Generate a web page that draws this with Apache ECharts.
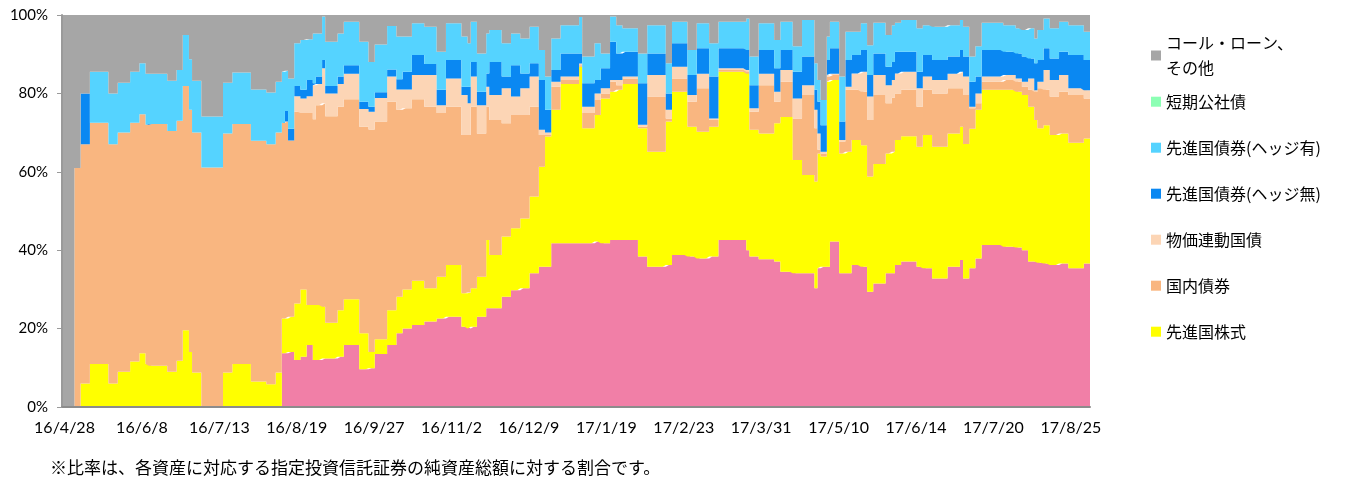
<!DOCTYPE html>
<html>
<head>
<meta charset="utf-8">
<script src="https://cdn.jsdelivr.net/npm/echarts@6/dist/echarts.min.js"></script>
<style>
html, body { margin: 0; padding: 0; background: #fff; }
#chart { width: 1351px; height: 478px; }
</style>
</head>
<body>
<div id="chart"></div>
<script>
// one tick label every 25 business days
const tickLabels = ['16/4/28', '16/6/8', '16/7/13', '16/8/19', '16/9/27', '16/11/2', '16/12/9',
  '17/1/19', '17/2/23', '17/3/31', '17/5/10', '17/6/14', '17/7/20', '17/8/25'];

// daily shares (%), one row = 25 business days
const domesticStock = [
  0,0,0,0,0, 0,0,0,0,0, 0,0,0,0,0, 0,0,0,0,0, 0,0,0,0,0,
  0,0,0,0,0, 0,0,0,0,0, 0,0,0,0,0, 0,0,0,0,0, 0,0,0,0,0,
  0,0,0,0,0, 0,0,0,0,0, 0,0,0,0,0, 0,0,0,0,0, 0,13.7,13.7,14,14,
  12,12,12.8,12.8,15.8, 15.8,12,12,12,12.4, 12.4,12.4,12.4,12.4,12.8, 12.8,15.8,15.8,15.8,15.8, 15.8,9.6,9.6,9.6,9.9,
  9.9,13.5,13.5,13.5,13.5, 15.8,15.8,15.8,18.8,18.8, 20,20,20,20.9,20.9, 20.9,20.9,21.8,21.8,21.8, 21.8,22.6,22.6,22.6,23,
  23,23,23,23,20.5, 20.5,20,20.5,20.5,23, 23,23,25.2,25.2,25.2, 25.2,25.2,28.1,28.1,28.1, 29.8,29.8,29.8,30.3,30.3,
  30.3,34.1,34.1,34.1,35.8, 35.8,35.8,35.8,41.8,41.8, 41.8,41.8,41.8,41.8,41.8, 41.8,41.8,41.8,41.8,41.8, 41.8,41.8,42.2,42.2,41.8,
  41.8,41.8,42.6,42.6,42.6, 42.6,42.6,42.6,42.6,42.6, 42.6,38.4,38.4,38.4,35.8, 35.8,35.8,35.8,35.8,35.8, 36.2,36.2,38.8,38.8,38.8,
  38.8,38.8,38.4,38.4,38.4, 37.9,37.9,37.9,37.9,38.4, 38.4,38.4,42.6,42.6,42.6, 42.6,42.6,42.6,42.6,42.6, 42.6,40,38.4,38.4,38.4,
  37.7,37.7,37.7,37.7,37.7, 37.1,37.1,34.5,34.5,34.5, 34.5,34.1,34.1,34.1,34.1, 34.1,34.1,34.1,30.3,35.4, 35.8,35.8,35.8,42.2,42.2,
  42.2,34.1,34.1,34.1,34.1, 36.2,36.2,36.2,35.8,35.8, 29.4,29.4,31.5,31.5,31.5, 31.5,34.1,34.1,34.1,36.2, 36.2,37.1,37.1,37.1,37.1,
  37.1,35.8,35.8,35.4,35.4, 35.4,32.8,32.8,32.8,32.8, 32.8,35.8,35.8,35.8,35.8, 37.5,32.8,32.8,35.4,35.4, 37.9,37.9,41.3,41.3,41.3,
  41.3,41.3,41.3,41.3,40.9, 40.9,40.9,40.9,40.7,40.7, 40,40,37.1,37.1,37.1, 36.8,36.8,36.6,36.6,36.2, 36.2,36.2,36.6,36.6,36.6,
  35.4,35.4,35.4,35.4,35.4, 36.6,36.6
];
const foreignStock = [
  0,0,0,0,0, 0,6,6,6,11, 11,11,11,11,11, 6,6,6,9,9, 9,9,11.6,11.6,11.6,
  13.7,13.7,11,10.5,10.5, 10.5,10.5,10.5,10.5,9, 9,9,11.8,11.8,19.6, 19.6,14,8.8,8.8,8.8, 0,0,0,0,0,
  0,0,8.8,8.8,8.8, 11,11,11,11,11, 11,6.5,6.5,6.5,6.5, 6.5,5.8,5.8,5.8,8.8, 8.8,8.9,8.9,9,9,
  14.4,14.4,17.2,17.2,10.2, 10.2,14,14,14,13.2, 9.1,9.1,9.1,9.1,11.9, 11.9,11.7,11.7,11.7,11.7, 11.7,9.2,9.2,9.2,4.1,
  4.1,3.8,3.8,3.8,3.8, 8.9,8.9,8.9,9.3,9.3, 10,10,10,11.3,11.3, 11.3,11.3,8.5,8.5,8.5, 8.5,10.6,10.6,10.6,13.2,
  13.2,13.2,13.2,13.2,8.5, 8.5,9.2,9.8,9.8,10.2, 10.2,10.2,17.4,13.6,13.6, 13.6,13.6,15.4,15.4,15.4, 15.8,15.8,15.8,17.8,17.8,
  17.8,19.6,19.6,19.6,25.5, 25.5,33.2,33.2,34,34, 34,40.6,40.6,40.6,40.6, 40.6,40.6,45,29.3,29.3, 29.3,29.3,32.3,32.3,36.9,
  36.9,36.9,37.8,37.8,38.3, 38.3,39.8,39.8,39.8,39.8, 39.8,32.7,32.7,32.7,29.3, 29.3,29.3,29.3,29.3,29.3, 36.6,36.6,41.6,41.6,41.6,
  41.6,41.6,33.1,33.1,33.1, 32.3,32.3,32.3,32.3,33.1, 33.1,33.1,42.9,42.9,42.9, 42.9,42.9,42.9,42.9,42.9, 42.9,45,32.3,32.3,32.3,
  32.1,32.1,32.1,32.1,32.1, 35.3,35.3,39.5,39.5,39.5, 39.5,28.9,28.9,28.9,25.1, 25.1,25.1,25.1,27.2,29.3, 28.1,28.1,47.2,41.2,41.2,
  41.2,30.6,30.6,31,31, 31.9,31.9,31.9,31,31, 29.4,29.4,30.5,30.5,30.5, 30.5,30.6,30.6,31,31.9, 31.9,32,32,32,32,
  32,30.6,30.6,34,34, 34,33.6,33.6,33.6,33.6, 33.6,34,34,34,34, 34,34.3,34.3,35.6,35.6, 37.9,37.9,39.6,39.6,39.6,
  39.6,39.6,39.6,39.6,40, 40,40,40,39.7,39.7, 39.6,39.6,39.5,39.5,36.1, 34.3,34.3,35.3,35.3,33.2, 33.2,33.2,33.2,33.2,33.2,
  32,32,32,32,32, 31.9,31.9
];
const domesticBond = [
  0,0,0,0,61, 61,61,61,61,61.5, 61.5,61.5,61.5,61.5,61.5, 61,61,61,61,61, 61,61,60.9,60.9,60.9,
  61,61,61,61.7,61.7, 61.7,61.7,61.7,61.7,61.4, 61.4,61.4,61.2,61.2,62.3, 62.3,61.8,61.2,61.2,61.2, 61.1,61.1,61.1,61.1,61.1,
  61.1,61.1,61,61,61, 61.2,61.2,61.2,61.2,61.2, 61.2,61.4,61.4,61.4,61.4, 61.4,61.2,61.2,61.2,61.2, 61.2,49.9,50.2,45,45,
  48.9,48.9,45,45,49, 49,47.4,51,51,51.9, 52.7,52.7,52.7,52.7,51.9, 51.9,51,51,51,51, 51,52.7,52.7,52.7,56.8,
  56.8,55.5,55.5,55.5,55.5, 53.2,53.2,53.2,47.7,47.7, 46.2,46.2,46.2,46.3,46.3, 46.3,46.3,46.3,46.3,46.3, 46.3,41.8,41.8,41.8,40.4,
  40.4,40.4,40.4,40.4,40.4, 40.4,40.2,46.3,46.3,36.6, 36.6,36.6,34,34.4,34.4, 34.4,34.4,28.9,28.9,28.9, 28.9,28.9,28.9,26.4,26.4,
  26.4,22.9,22.9,22.9,8.1, 8.1,0.4,0.4,5.9,5.9, 5.9,1,1,1,1, 1,1,0.4,3.9,3.9, 3.9,3.9,3.8,3.8,1.3,
  1.3,1.3,2.6,2.6,1.2, 1.2,1.4,1.4,1.4,1.4, 1.4,0.4,0.4,0.4,14.1, 14.1,14.1,14.1,14.1,14.1, 0.8,0.8,3.4,3.4,3.4,
  3.4,3.4,6.4,6.4,6.4, 11.1,11.1,11.1,11.1,1.7, 1.7,1.7,0.5,0.5,0.5, 0.5,0.5,0.5,0.5,0.5, 0.5,0.5,4.6,4.6,4.6,
  12.3,12.3,12.3,12.3,12.3, 5.5,5.5,9,9,9, 9,10.6,10.6,10.6,20.4, 20.4,20.4,20.4,13.6,0.9, 0.8,0.8,1.3,1.3,1.3,
  1.3,3,3,15.8,15.8, 12.8,12.8,12.8,13.6,13.6, 14.4,14.4,17.6,17.6,17.6, 17.6,12.8,12.8,13.8,11.9, 11.9,11.8,11.8,11.8,11.8,
  11.8,10.2,10.2,11.5,11.5, 11.5,13.6,13.6,13.6,13.6, 13.6,11.5,11.5,11.5,11.5, 9.8,12.5,12.5,5.2,5.2, 1.7,1.7,2.1,2.1,2.1,
  2.1,2.1,2.1,2.1,2.5, 2.5,2.5,2.5,2.6,2.6, 2.1,2.1,4.3,4.3,7.2, 10.2,10.2,9,9,9.8, 9.8,9.8,10.6,10.6,10.6,
  12.2,12.2,12.2,12.2,12.2, 10.2,10.2
];
const inflationBond = [
  0,0,0,0,0, 0,0,0,0,0, 0,0,0,0,0, 0,0,0,0,0, 0,0,0,0,0,
  0,0,0,0,0, 0,0,0,0,0, 0,0,0,0,0, 0,0,0,0,0, 0,0,0,0,0,
  0,0,0,0,0, 0,0,0,0,0, 0,0,0,0,0, 0,0,0,0,0, 0,0,0,0,0,
  4,4,3.7,3.7,4.3, 4.3,8.7,5.4,5.4,8.9, 5.8,5.8,5.8,5.8,5.8, 5.8,6.5,6.5,6.5,6.5, 6.5,4.5,4.5,4.5,4.5,
  4.5,6,6,6,6, 6.4,6.4,6.4,5.2,5.2, 4.8,4.8,4.8,6.2,6.2, 6.2,6.2,8.1,8.1,8.1, 8.1,2,2,2,7.2,
  7.2,7.2,7.2,7.2,10.2, 10.2,8.1,7.7,7.7,7.2, 7.2,7.2,5.1,6.4,6.4, 6.4,6.4,8.9,8.9,8.9, 4.7,4.7,4.7,6.8,6.8,
  6.8,7.7,7.7,7.7,1.3, 1.3,0.6,0.6,1.3,1.3, 1.3,0.9,0.9,0.9,0.9, 0.9,0.9,0.4,1.6,1.6, 1.6,1.6,1.7,1.7,1.3,
  1.3,1.3,0.4,0.4,1.3, 1.3,0.5,0.5,0.5,0.5, 0.5,0.5,0.5,0.5,5.5, 5.5,5.5,5.5,5.5,5.5, 2.2,2.2,3,3,3,
  3,3,1.7,1.7,1.7, 3.7,3.7,3.7,3.7,0.4, 0.4,0.4,0.4,0.4,0.4, 0.4,0.4,0.4,0.4,0.4, 0.4,0.5,0.9,0.9,0.9,
  2.9,2.9,2.9,2.9,2.9, 2.5,2.5,3,3,3, 3,5.1,5.1,5.1,2.5, 2.5,2.5,2.5,4.7,4.2, 0.4,0.4,0.4,0.3,0.3,
  0.3,0.4,0.4,0.8,0.8, 4.2,4.2,4.2,5.1,5.1, 6,6,5.1,5.1,5.1, 5.1,4.6,4.6,4.5,5.1, 5.1,4.6,4.6,4.6,4.6,
  4.6,4.7,4.7,3.4,3.4, 3.4,3.4,3.4,3.4,3.4, 3.4,3.7,3.7,3.7,3.7, 4.2,4.7,4.7,0.4,0.4, 2.5,2.5,1.3,1.3,1.3,
  1.3,1.3,1.3,1.3,1.3, 1.3,1.3,1.3,0.8,0.8, 1.3,1.3,2.9,2.9,0.4, 1.7,1.7,5.1,5.1,4.2, 4.2,4.2,4.3,4.3,4.3,
  1.7,1.7,1.7,1.7,1.7, 2.1,2.1
];
const foreignBondUnhedged = [
  0,0,0,0,0, 0,13,13,13,0, 0,0,0,0,0, 0,0,0,0,0, 0,0,0,0,0,
  0,0,0,0,0, 0,0,0,0,0, 0,0,0,0,0, 0,0,0,0,0, 0,0,0,0,0,
  0,0,0,0,0, 0,0,0,0,0, 0,0,0,0,0, 0,0,0,0,0, 0,0,2.7,3,3,
  2.6,2.6,2.2,2.2,4.1, 4.1,0.5,1.9,1.9,2.1, 1.9,1.9,1.9,1.9,1.9, 1.9,2.2,2.2,2.2,2.2, 2.2,1.9,1.9,1.9,1.3,
  1.3,1.5,1.5,1.5,1.5, 1.8,1.8,1.8,2.6,2.6, 4.5,4.5,4.5,5.1,5.1, 5.1,5.1,2.8,2.8,2.8, 2.8,3.9,3.9,3.9,4.7,
  4.7,4.7,4.7,4.7,2.1, 2.1,4.2,3.7,3.7,3.4, 3.4,3.4,3.4,8.4,8.4, 8.4,8.4,3,3,3, 8,8,8,3.8,3.8,
  3.8,3.4,3.4,3.4,12.7, 12.7,5.8,5.8,3,3, 3,5.9,5.9,5.9,5.9, 5.9,5.9,2.6,6,6, 6,6,3.4,3.4,5.1,
  5.1,5.1,9.8,9.8,6.8, 6.8,6.3,6.3,6.3,6.3, 6.3,10.6,10.6,10.6,5.5, 5.5,5.5,5.5,5.5,5.5, 4.2,4.2,6,6,6,
  6,6,5.1,5.1,5.1, 6.5,6.5,6.5,6.5,10.7, 10.7,10.7,5.1,5.1,5.1, 5.1,5.1,5.1,5.1,5.1, 5.1,5.1,5.9,5.9,5.9,
  6.1,6.1,6.1,6.1,6.1, 6,6,5.1,5.1,5.1, 5.1,6.8,6.8,6.8,7.3, 7.3,7.3,7.3,5.1,8.1, 6.8,6.8,3.8,6.5,6.5,
  6.5,4.7,4.7,6.8,6.8, 4.7,4.7,4.7,5.6,5.6, 5.5,5.5,5.5,5.5,5.5, 5.5,4.7,4.7,4.6,5.5, 5.5,5.1,5.1,5.1,5.1,
  5.1,4.2,4.2,5.5,5.5, 5.5,5.1,5.1,5.1,5.1, 5.1,4.4,4.4,4.4,4.4, 5.6,5.1,5.1,6.4,6.4, 4.3,4.3,6.8,6.8,6.8,
  6.8,6.8,6.8,6.8,5.9, 5.9,5.9,5.9,6.4,6.4, 6.4,6.4,5.1,5.1,6.9, 5.5,5.5,5.5,5.5,5.5, 5.5,5.5,5.9,5.9,5.9,
  8.5,8.5,8.5,8.5,8.5, 7.7,7.7
];
const foreignBondHedged = [
  0,0,0,0,0, 0,0,0,0,13, 13,13,13,13,13, 13,13,13,12.7,12.7, 12.7,12.7,13,13,13,
  13,13,13,12.8,12.8, 12.8,12.8,12.8,12.8,12.8, 12.8,12.8,13,13,13, 13,12.9,13.2,13.2,13.2, 13,13,13,13,13,
  13,13,12.9,12.9,12.9, 13.1,13.1,13.1,13.1,13.1, 13.1,13.1,13.1,13.1,13.1, 13.1,13.2,13.2,13.2,13, 13,13,10.3,12.8,12.8,
  10.9,10.9,12.7,12.7,10.4, 10.4,12.7,11,11,11.1, 11.3,11.3,11.3,11.3,11, 11,11.1,11.1,11.1,11.1, 11.1,15.3,15.3,15.3,11.4,
  11.4,12.2,12.2,12.2,12.2, 11.1,11.1,11.1,10.9,10.9, 9,9,9,8.1,8.1, 8.1,8.1,9.5,9.5,9.5, 9.5,9.7,9.7,9.7,9.4,
  9.4,9.4,9.4,9.4,12.8, 12.8,11.1,10.3,10.3,9.8, 9.8,9.8,10.2,8.2,8.2, 8.2,8.2,8.5,8.5,8.5, 8.1,8.1,8.1,8.9,8.9,
  8.9,9.3,9.3,9.3,7.7, 7.7,8.5,8.5,8,8, 8,7.2,7.2,7.2,7.2, 7.2,7.2,9.3,6.8,6.8, 6.8,6.8,9.4,9.4,3.8,
  3.8,3.8,6.4,6.4,7.2, 7.2,6,6,6,6, 6,7.6,7.6,7.6,7.2, 7.2,7.2,7.2,7.2,7.2, 7.7,7.7,5.5,5.5,5.5,
  5.5,5.5,6.4,6.4,6.4, 6.4,6.4,6.4,6.4,8.5, 8.5,8.5,6.8,6.8,6.8, 6.8,6.8,6.8,6.8,6.8, 6.8,8,7.3,7.3,7.3,
  6.8,6.8,6.8,6.8,6.8, 7.2,7.2,7.2,7.2,7.2, 7.2,6.5,6.5,6.5,9.3, 9.3,9.3,9.3,6.8,5.5, 6.4,6.4,6,6.8,6.8,
  6.8,11.5,11.5,7.2,7.2, 5.9,5.9,5.9,6.8,6.8, 7.6,7.6,7.8,7.8,7.8, 7.8,8.1,8.1,9.4,7.4, 7.4,8.1,8.1,8.1,8.1,
  8.1,11.1,11.1,7.6,7.6, 7.6,8.5,8.5,8.5,8.5, 8.5,8,8,8,8, 7.6,7.6,7.6,6.4,6.4, 7.7,7.7,6.9,6.9,6.9,
  6.9,6.9,6.9,6.9,6.8, 6.8,6.8,6.8,6.4,6.4, 6.8,6.8,7.7,7.7,6.3, 7.7,7.7,7.6,7.6,7.7, 7.7,7.7,7.7,7.7,7.7,
  7.6,7.6,7.6,7.6,7.6, 7.2,7.2
];
const shortTermBond = []; // in the legend, never visible in the plot
const callLoanOther = [
  100,100,100,100,39, 39,20,20,20,14.5, 14.5,14.5,14.5,14.5,14.5, 20,20,20,17.3,17.3, 17.3,17.3,14.5,14.5,14.5,
  12.3,12.3,15,15,15, 15,15,15,15,16.8, 16.8,16.8,14,14,5.1, 5.1,11.3,16.8,16.8,16.8, 25.9,25.9,25.9,25.9,25.9,
  25.9,25.9,17.3,17.3,17.3, 14.7,14.7,14.7,14.7,14.7, 14.7,19,19,19,19, 19,19.8,19.8,19.8,17, 17,14.5,14.2,16.2,16.2,
  7.2,7.2,6.4,6.4,6.2, 6.2,4.7,4.7,4.7,0.4, 6.8,6.8,6.8,6.8,4.7, 4.7,1.7,1.7,1.7,1.7, 1.7,6.8,6.8,6.8,12,
  12,7.5,7.5,7.5,7.5, 2.8,2.8,2.8,5.5,5.5, 5.5,5.5,5.5,2.1,2.1, 2.1,2.1,3,3,3, 3,9.4,9.4,9.4,2.1,
  2.1,2.1,2.1,2.1,5.5, 5.5,7.2,1.7,1.7,9.8, 9.8,9.8,4.7,3.8,3.8, 3.8,3.8,7.2,7.2,7.2, 4.7,4.7,4.7,6,6,
  6,3,3,3,8.9, 8.9,15.7,15.7,6,6, 6,2.6,2.6,2.6,2.6, 2.6,2.6,0.5,10.6,10.6, 10.6,10.6,7.2,7.2,9.8,
  9.8,9.8,0.4,0.4,2.6, 2.6,3.4,3.4,3.4,3.4, 3.4,9.8,9.8,9.8,2.6, 2.6,2.6,2.6,2.6,2.6, 12.3,12.3,1.7,1.7,1.7,
  1.7,1.7,8.9,8.9,8.9, 2.1,2.1,2.1,2.1,7.2, 7.2,7.2,1.7,1.7,1.7, 1.7,1.7,1.7,1.7,1.7, 1.7,0.9,10.6,10.6,10.6,
  2.1,2.1,2.1,2.1,2.1, 6.4,6.4,1.7,1.7,1.7, 1.7,8,8,8,1.3, 1.3,1.3,1.3,12.3,16.6, 21.7,21.7,5.5,1.7,1.7,
  1.7,15.7,15.7,4.3,4.3, 4.3,4.3,4.3,2.1,2.1, 7.7,7.7,2,2,2, 2,5.1,5.1,2.6,2, 2,1.3,1.3,1.3,1.3,
  1.3,3.4,3.4,2.6,2.6, 2.6,3,3,3,3, 3,2.6,2.6,2.6,2.6, 1.3,3,3,10.6,10.6, 8,8,2,2,2,
  2,2,2,2,2.6, 2.6,2.6,2.6,3.4,3.4, 3.8,3.8,3.4,3.4,6, 3.8,3.8,0.9,0.9,3.4, 3.4,3.4,1.7,1.7,1.7,
  2.6,2.6,2.6,2.6,2.6, 4.3,4.3
];

// each business day is a step; the extra category closes the last step
const days = domesticStock.map((v, i) => i).concat(domesticStock.length);

// bottom of the stack first
const stackDefs = [
  { name: '国内株式', data: domesticStock, color: '#F17FA7' },
  { name: '先進国株式', data: foreignStock, color: '#FFFF00' },
  { name: '国内債券', data: domesticBond, color: '#F9B680' },
  { name: '物価連動国債', data: inflationBond, color: '#FCD5B5' },
  { name: '先進国債券(ヘッジ無)', data: foreignBondUnhedged, color: '#0A88F2' },
  { name: '先進国債券(ヘッジ有)', data: foreignBondHedged, color: '#55D3FF' },
  { name: '短期公社債', data: shortTermBond, color: '#8CFFB4' },
  { name: 'コール・ローン、その他', data: callLoanOther, color: '#A6A6A6' }
];

const jpFont = '"Noto Sans CJK JP", sans-serif';
const legendText = { fontSize: 16, color: '#000', fontFamily: jpFont };

const chart = echarts.init(document.getElementById('chart'));
chart.setOption({
  animation: false,
  backgroundColor: '#fff',
  title: {
    text: '※比率は、各資産に対応する指定投資信託証券の純資産総額に対する割合です。',
    left: 50, top: 459, padding: 0,
    textStyle: { fontSize: 17, fontWeight: 'normal', color: '#000', fontFamily: jpFont }
  },
  legend: [
    {
      data: ['コール・ローン、その他'],
      orient: 'vertical', left: 1151, top: 18, padding: 0,
      icon: 'rect', itemWidth: 10, itemHeight: 10, selectedMode: false,
      formatter: () => 'コール・ローン、\nその他',
      textStyle: Object.assign({ lineHeight: 25, padding: [25, 0, 0, 0] }, legendText)
    },
    {
      data: ['短期公社債', '先進国債券(ヘッジ有)', '先進国債券(ヘッジ無)', '物価連動国債', '国内債券', '先進国株式'],
      orient: 'vertical', left: 1151, top: 91.7, padding: 0, itemGap: 26,
      icon: 'rect', itemWidth: 10, itemHeight: 10, selectedMode: false,
      textStyle: Object.assign({ lineHeight: 20 }, legendText)
    }
  ],
  grid: { left: 62, top: 15, width: 1028, height: 392 },
  xAxis: {
    type: 'category',
    data: days,
    boundaryGap: false,
    z: 10,
    axisLine: { lineStyle: { color: '#8c8c8c', width: 2 } },
    axisTick: { show: false },
    axisLabel: {
      interval: (i) => i % 25 === 0,
      formatter: (v, i) => tickLabels[i / 25] || '',
      margin: 13, fontSize: 16, color: '#000', fontFamily: 'Lato',
      padding: [0, 0, 0, 5]
    }
  },
  yAxis: {
    type: 'value', min: 0, max: 100, interval: 20,
    z: 10,
    axisLine: { show: true, lineStyle: { color: '#9a9a9a', width: 2 } },
    axisTick: { show: true, length: 5, lineStyle: { color: '#9a9a9a' } },
    splitLine: { show: false },
    axisLabel: { formatter: '{value}%', margin: 14, fontSize: 15, color: '#000', fontFamily: 'Lato' }
  },
  series: stackDefs.map(s => ({
    name: s.name,
    type: 'line',
    stack: 'total',
    step: 'end',
    symbol: 'none',
    data: s.data.length ? s.data.concat(s.data[s.data.length - 1]) : [],
    itemStyle: { color: s.color },
    lineStyle: { width: 0, opacity: 0 },
    areaStyle: { color: s.color, opacity: 1 },
    emphasis: { disabled: true }
  }))
});
</script>
</body>
</html>
